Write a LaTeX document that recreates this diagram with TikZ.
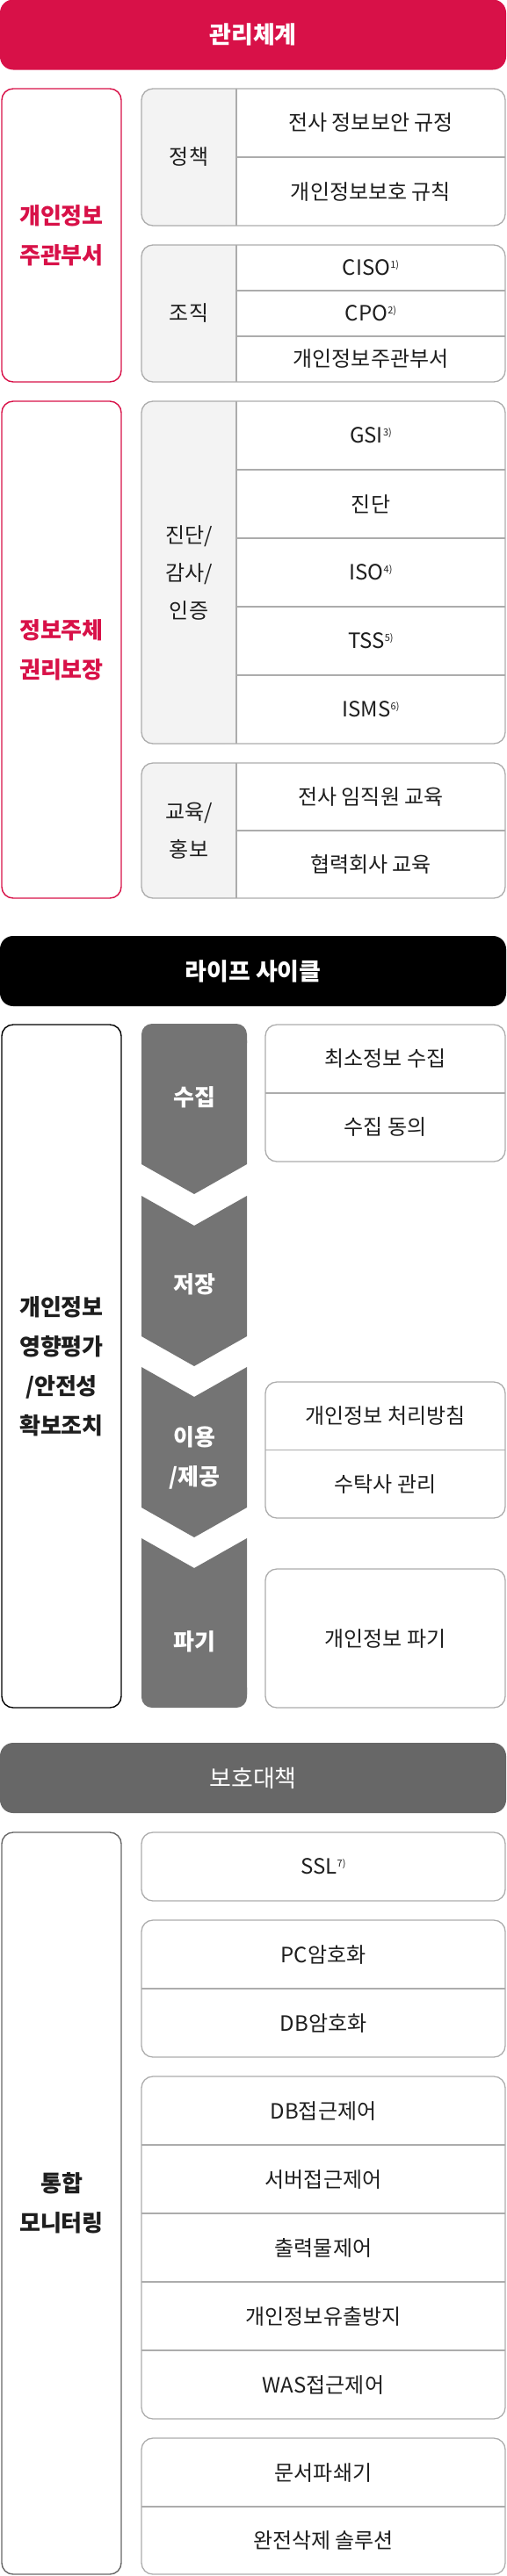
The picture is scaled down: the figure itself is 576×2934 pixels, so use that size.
\documentclass[tikz,border=0pt]{standalone}
\usepackage{fontspec}
\setmainfont{Noto Sans CJK KR}
\usetikzlibrary{positioning}
\usetikzlibrary{backgrounds}

\definecolor{mgtred}{HTML}{D81148}
\definecolor{cellline}{HTML}{ACACAC}
\definecolor{cellfill}{HTML}{F3F3F3}
\definecolor{stagegray}{HTML}{747474}
\definecolor{guardgray}{HTML}{676767}
\definecolor{bodytext}{HTML}{1E1E1E}

\newcommand{\fnmark}[1]{\raisebox{8.5pt}{\fontsize{11}{11}\selectfont #1}}

\begin{document}
\begin{tikzpicture}[x=1pt, y=-1pt, font=\fontsize{24}{43}\selectfont,
    every node/.style={inner sep=0pt, outer sep=0pt, text=bodytext}]
  \tikzstyle{titlebar}=[rounded corners=15pt, minimum width=576pt, minimum height=80pt, text=white, font=\fontsize{27}{27}\selectfont\bfseries]
  \tikzstyle{sidebox}=[draw, fill=white, rounded corners=13pt, line width=1.4pt, minimum width=136pt, align=center, font=\fontsize{26}{45}\selectfont\bfseries]
  \tikzstyle{headcell}=[minimum width=108pt, align=center]
  \tikzstyle{itemcell}=[minimum width=306pt, minimum height=78pt]
  \tikzstyle{tablebox}=[draw=cellline, line width=1.3pt, rounded corners=13pt]
  \tikzstyle{cellrule}=[draw=cellline, line width=1.3pt]
  \tikzstyle{stagetext}=[text=white, align=center, font=\fontsize{26}{45}\selectfont\bfseries]
  \useasboundingbox (0,0) rectangle (576,2934);

  % management
  \node[titlebar, fill=mgtred] (mgt) at (288,39.5) {관리체계};
  \node[sidebox, draw=mgtred, text=mgtred, minimum height=334pt] (owner) at (70,268) {개인정보\\주관부서};
  \node[sidebox, draw=mgtred, text=mgtred, minimum height=566pt] (rights) at (70,740) {정보주체\\권리보장};

  \node[headcell, minimum height=156pt] (policy) at (215,179) {정책};
  \node[itemcell, anchor=north west] (policy1) at (policy.north east) {전사 정보보안 규정};
  \node[itemcell, below=0pt of policy1] (policy2) {개인정보보호 규칙};

  \node[headcell, minimum height=156pt] (org) at (215,357) {조직};
  \node[itemcell, minimum height=52pt, anchor=north west] (org1) at (org.north east) {CISO\fnmark{1)}};
  \node[itemcell, minimum height=52pt, below=0pt of org1] (org2) {CPO\fnmark{2)}};
  \node[itemcell, minimum height=52pt, below=0pt of org2] (org3) {개인정보주관부서};

  \node[headcell, minimum height=390pt] (audit) at (215,652) {진단/\\감사/\\인증};
  \node[itemcell, anchor=north west] (audit1) at (audit.north east) {GSI\fnmark{3)}};
  \node[itemcell, below=0pt of audit1] (audit2) {진단};
  \node[itemcell, below=0pt of audit2] (audit3) {ISO\fnmark{4)}};
  \node[itemcell, below=0pt of audit3] (audit4) {TSS\fnmark{5)}};
  \node[itemcell, below=0pt of audit4] (audit5) {ISMS\fnmark{6)}};

  \node[headcell, minimum height=154pt] (edu) at (215,946) {교육/\\홍보};
  \node[itemcell, minimum height=77pt, anchor=north west] (edu1) at (edu.north east) {전사 임직원 교육};
  \node[itemcell, minimum height=77pt, below=0pt of edu1] (edu2) {협력회사 교육};

  \begin{scope}[on background layer]
    \foreach \h in {policy, org, audit, edu} {
      \fill[cellfill, rounded corners=13pt] (\h.north west) rectangle (\h.south east);
      \fill[cellfill] (\h.north) rectangle (\h.south east);
    }
  \end{scope}
  \foreach \h/\last in {policy/policy2, org/org3, audit/audit5, edu/edu2} {
    \draw[tablebox] (\h.north west) rectangle (\last.south east);
    \draw[cellrule] (\h.north east) -- (\h.south east);
  }
  \foreach \r in {policy1, org1, org2, audit1, audit2, audit3, audit4, edu1}
    \draw[cellrule] (\r.south west) -- (\r.south east);

  % life cycle
  \node[titlebar, fill=black] (life) at (288,1106) {라이프 사이클};
  \node[sidebox, draw=black, minimum height=778pt] (pia) at (70,1556) {개인정보\\영향평가\\/안전성\\확보조치};

  \fill[stagegray, rounded corners=12pt] (161,1166) rectangle (281,1200);
  \fill[stagegray] (161,1185) -- (281,1185) -- (281,1326) -- (221,1360) -- (161,1326) -- cycle;
  \foreach \y in {1362, 1557}
    \fill[stagegray] (161,\y) -- (221,{\y+34}) -- (281,\y) -- (281,{\y+160}) -- (221,{\y+194}) -- (161,{\y+160}) -- cycle;
  \fill[stagegray] (161,1752) -- (221,1786) -- (281,1752) -- (281,1930) -- (161,1930) -- cycle;
  \fill[stagegray, rounded corners=12pt] (161,1910) rectangle (281,1945);

  \node[stagetext] (collect) at (221,1250) {수집};
  \node[stagetext] (store) at (221,1463) {저장};
  \node[stagetext] (use) at (221,1660) {이용\\/제공};
  \node[stagetext] (destroy) at (221,1870) {파기};

  \node[itemcell, minimum width=273pt, anchor=north west] (collect1) at (302,1167) {최소정보 수집};
  \node[itemcell, minimum width=273pt, below=0pt of collect1] (collect2) {수집 동의};
  \node[itemcell, minimum width=273pt, minimum height=77.5pt, anchor=north west] (use1) at (302,1574) {개인정보 처리방침};
  \node[itemcell, minimum width=273pt, minimum height=77.5pt, below=0pt of use1] (use2) {수탁사 관리};
  \node[itemcell, minimum width=273pt, minimum height=158pt, anchor=north west] (destroy1) at (302,1787) {개인정보 파기};

  \foreach \first/\last in {collect1/collect2, use1/use2, destroy1/destroy1}
    \draw[tablebox] (\first.north west) rectangle (\last.south east);
  \foreach \r in {collect1, use1}
    \draw[cellrule] (\r.south west) -- (\r.south east);

  % protection
  \node[titlebar, fill=guardgray, font=\fontsize{27}{27}\selectfont] (guard) at (288,2025) {보호대책};
  \node[sidebox, draw=guardgray, minimum height=845pt] (monitor) at (70,2509.5) {통합\\모니터링};

  \node[itemcell, minimum width=414pt, anchor=north west] (ssl1) at (161,2087) {SSL\fnmark{7)}};
  \node[itemcell, minimum width=414pt, anchor=north west] (enc1) at (161,2187) {PC암호화};
  \node[itemcell, minimum width=414pt, below=0pt of enc1] (enc2) {DB암호화};
  \node[itemcell, minimum width=414pt, anchor=north west] (acc1) at (161,2365) {DB접근제어};
  \node[itemcell, minimum width=414pt, below=0pt of acc1] (acc2) {서버접근제어};
  \node[itemcell, minimum width=414pt, below=0pt of acc2] (acc3) {출력물제어};
  \node[itemcell, minimum width=414pt, below=0pt of acc3] (acc4) {개인정보유출방지};
  \node[itemcell, minimum width=414pt, below=0pt of acc4] (acc5) {WAS접근제어};
  \node[itemcell, minimum width=414pt, anchor=north west] (del1) at (161,2777) {문서파쇄기};
  \node[itemcell, minimum width=414pt, minimum height=77pt, below=0pt of del1] (del2) {완전삭제 솔루션};

  \foreach \first/\last in {ssl1/ssl1, enc1/enc2, acc1/acc5, del1/del2}
    \draw[tablebox] (\first.north west) rectangle (\last.south east);
  \foreach \r in {enc1, acc1, acc2, acc3, acc4, del1}
    \draw[cellrule] (\r.south west) -- (\r.south east);
\end{tikzpicture}
\end{document}
